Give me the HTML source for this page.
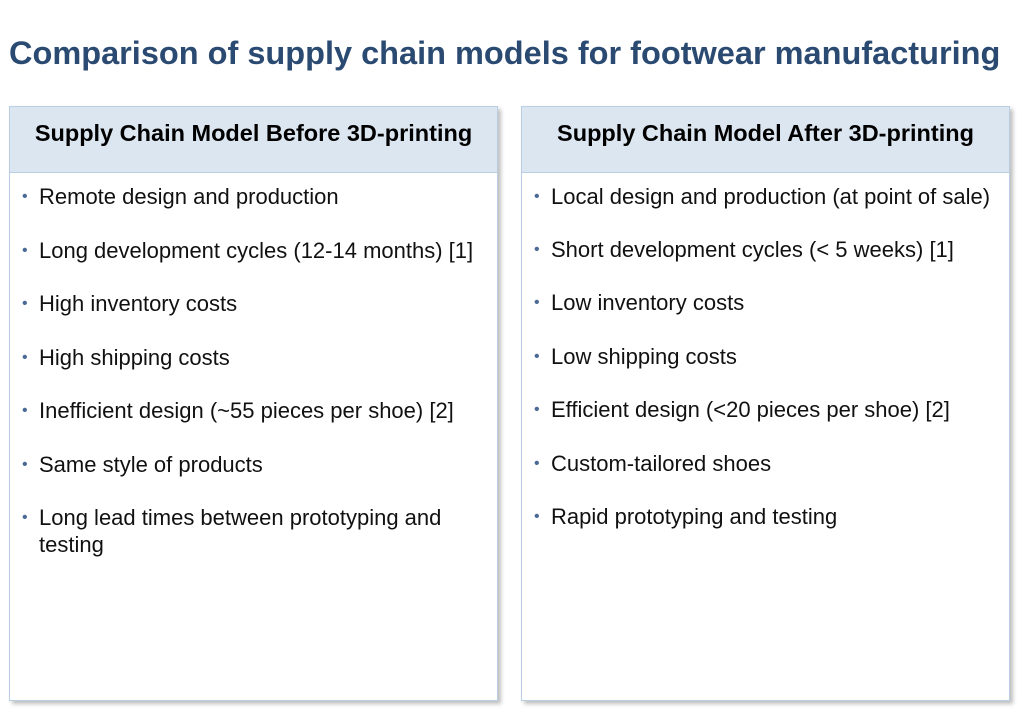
<!DOCTYPE html>
<html><head><style>
body{margin:0;width:1024px;height:719px;background:#fff;font-family:"Liberation Sans",sans-serif;position:relative;overflow:hidden}
h1{position:absolute;left:9px;top:33px;margin:0;font-size:32.5px;font-weight:bold;color:#2b4a72;white-space:nowrap;line-height:40px}
.box{position:absolute;top:106px;width:487px;height:593px;border:1px solid #b9cde3;background:#fff;box-shadow:3px 3px 4px rgba(0,0,0,0.25)}
.hd{height:65px;background:#dce6f1;border-bottom:1px solid #b9cde3;text-align:center;font-weight:bold;font-size:23.5px;line-height:52px;color:#000;white-space:nowrap}
ul{margin:0;padding:0;list-style:none}
li{position:absolute;left:29px;font-size:22px;color:#111;line-height:27px;width:440px}
li:before{content:"•";position:absolute;left:-17px;color:#4a6a95;font-size:16px}
</style></head><body>
<h1>Comparison of supply chain models for footwear manufacturing</h1>
<div class="box" style="left:9px">
<div class="hd">Supply Chain Model Before 3D-printing</div>
<ul>
<li style="top:76px">Remote design and production</li>
<li style="top:130px">Long development cycles (12-14 months) [1]</li>
<li style="top:183px">High inventory costs</li>
<li style="top:237px">High shipping costs</li>
<li style="top:290px">Inefficient design (~55 pieces per shoe) [2]</li>
<li style="top:344px">Same style of products</li>
<li style="top:397px">Long lead times between prototyping and testing</li>
</ul></div>
<div class="box" style="left:521px">
<div class="hd">Supply Chain Model After 3D-printing</div>
<ul>
<li style="top:76px;width:470px">Local design and production (at point of sale)</li>
<li style="top:129px">Short development cycles (&lt; 5 weeks) [1]</li>
<li style="top:182px">Low inventory costs</li>
<li style="top:236px">Low shipping costs</li>
<li style="top:289px">Efficient design (&lt;20 pieces per shoe) [2]</li>
<li style="top:343px">Custom-tailored shoes</li>
<li style="top:396px">Rapid prototyping and testing</li>
</ul></div>
</body></html>
